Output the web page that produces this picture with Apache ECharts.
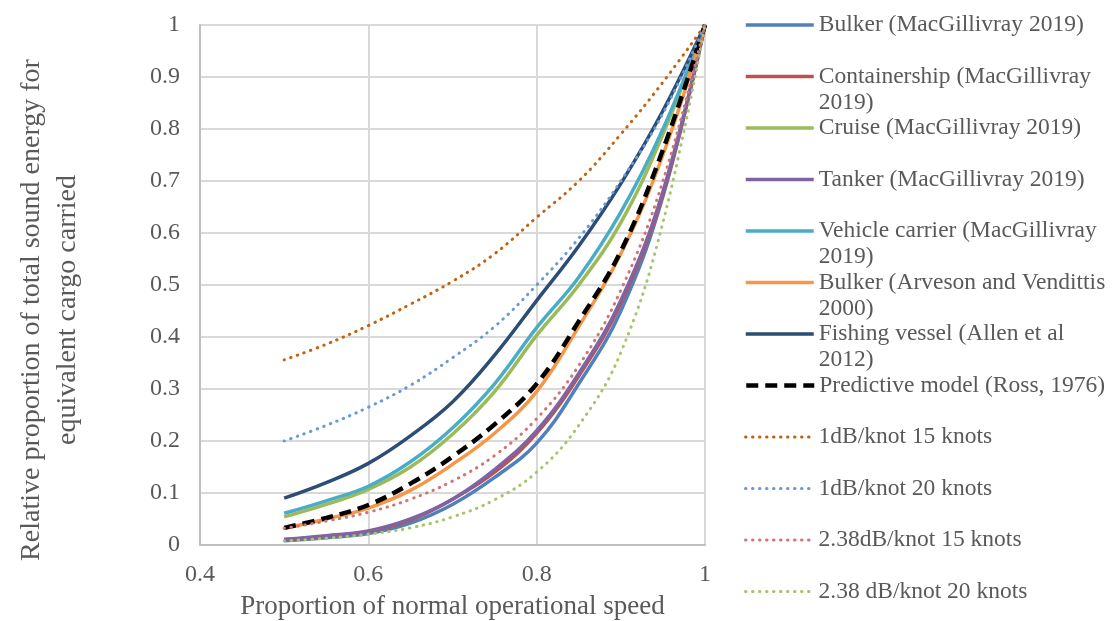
<!DOCTYPE html>
<html>
<head>
<meta charset="utf-8">
<script src="https://cdn.jsdelivr.net/npm/echarts@6/dist/echarts.min.js"></script>
<style>
	html, body { margin: 0; padding: 0; background: #fff; }
	#main { width: 1116px; height: 621px; }
</style>
</head>
<body>
<div id="main"></div>
<script>
var speed = [ 0.5, 0.55, 0.6, 0.65, 0.7, 0.75, 0.8, 0.85, 0.9, 0.95, 1 ];

var bulkerMac = [ 0.008, 0.014, 0.022, 0.042, 0.078, 0.13, 0.196, 0.31, 0.45, 0.67, 1 ];
var containerMac = [ 0.01, 0.017, 0.026, 0.048, 0.088, 0.14, 0.215, 0.325, 0.465, 0.675, 1 ];
var cruiseMac = [ 0.054, 0.078, 0.107, 0.15, 0.213, 0.295, 0.403, 0.5, 0.62, 0.79, 1 ];
var tankerMac = [ 0.011, 0.018, 0.027, 0.05, 0.088, 0.145, 0.22, 0.33, 0.47, 0.68, 1 ];
var vehicleMac = [ 0.061, 0.085, 0.113, 0.16, 0.225, 0.31, 0.418, 0.515, 0.64, 0.8, 1 ];
var bulkerArveson = [ 0.032, 0.05, 0.071, 0.105, 0.155, 0.215, 0.295, 0.42, 0.56, 0.75, 1 ];
var fishingAllen = [ 0.09, 0.12, 0.157, 0.21, 0.275, 0.365, 0.47, 0.575, 0.695, 0.835, 1 ];
var rossModel = [ 0.033, 0.052, 0.077, 0.118, 0.17, 0.232, 0.31, 0.43, 0.565, 0.76, 1 ];
var db1kn15 = [ 0.356, 0.386, 0.422, 0.463, 0.507, 0.56, 0.63, 0.70, 0.79, 0.89, 1 ];
var db1kn20 = [ 0.2, 0.23, 0.265, 0.307, 0.36, 0.42, 0.5, 0.59, 0.70, 0.83, 1 ];
var db238kn15 = [ 0.032, 0.046, 0.063, 0.088, 0.123, 0.172, 0.243, 0.345, 0.49, 0.70, 1 ];
var db238kn20 = [ 0.008, 0.013, 0.021, 0.033, 0.054, 0.087, 0.14, 0.23, 0.37, 0.62, 1 ];

var seriesNames = [ 'Bulker (MacGillivray 2019)', 'Containership (MacGillivray 2019)',
		'Cruise (MacGillivray 2019)', 'Tanker (MacGillivray 2019)',
		'Vehicle carrier (MacGillivray 2019)', 'Bulker (Arveson and Vendittis 2000)',
		'Fishing vessel (Allen et al 2012)', 'Predictive model (Ross, 1976)',
		'1dB/knot 15 knots', '1dB/knot 20 knots', '2.38dB/knot 15 knots', '2.38 dB/knot 20 knots' ];
var legendLabels = [ 'Bulker (MacGillivray 2019)', 'Containership (MacGillivray\n2019)',
		'Cruise (MacGillivray 2019)', 'Tanker (MacGillivray 2019)',
		'Vehicle carrier (MacGillivray\n2019)', 'Bulker (Arveson and Vendittis\n2000)',
		'Fishing vessel (Allen et al\n2012)', 'Predictive model (Ross, 1976)',
		'1dB/knot 15 knots', '1dB/knot 20 knots', '2.38dB/knot 15 knots', '2.38 dB/knot 20 knots' ];
var seriesValues = [ bulkerMac, containerMac, cruiseMac, tankerMac, vehicleMac, bulkerArveson,
		fishingAllen, rossModel, db1kn15, db1kn20, db238kn15, db238kn20 ];

var styles = [
	{ color : '#4F81BD', width : 3.5, type : 'solid' },
	{ color : '#C0504D', width : 3.5, type : 'solid' },
	{ color : '#9BBB59', width : 3.5, type : 'solid' },
	{ color : '#8064A2', width : 3.5, type : 'solid' },
	{ color : '#4BACC6', width : 3.5, type : 'solid' },
	{ color : '#F79646', width : 3.5, type : 'solid' },
	{ color : '#2C4D75', width : 3.5, type : 'solid' },
	{ color : '#000000', width : 4.5, type : [ 12, 7 ] },
	{ color : '#C0620F', width : 3, type : [ 0.5, 6.5 ], cap : 'round' },
	{ color : '#6A9AD3', width : 3, type : [ 0.5, 6.5 ], cap : 'round' },
	{ color : '#D07474', width : 3, type : [ 0.5, 6.5 ], cap : 'round' },
	{ color : '#A6C46A', width : 3, type : [ 0.5, 6.5 ], cap : 'round' }
];

var font = 'Liberation Serif';
var textColor = '#595959';

var chart = echarts.init(document.getElementById('main'));

var series = [];
var legends = [];
for (var i = 0; i < seriesNames.length; i++) {
	var pts = [];
	for (var j = 0; j < speed.length; j++) {
		pts.push([ speed[j], seriesValues[i][j] ]);
	}
	var st = styles[i];
	var lineStyle = {
		color : st.color,
		width : st.width,
		type : st.type,
		cap : st.cap || 'butt'
	};
	series.push({
		name : seriesNames[i],
		type : 'line',
		data : pts,
		smooth : 0.4,
		symbol : 'none',
		color : st.color,
		lineStyle : lineStyle
	});
	// two-line labels get an empty first line so the first text line sits on the icon
	var twoLines = legendLabels[i].indexOf('\n') >= 0;
	var centerY = 25 + i * 51.5;
	legends.push({
		data : [ seriesNames[i] ],
		left : 744,
		top : twoLines ? centerY - 39 : centerY - 13,
		padding : 0,
		itemWidth : 68,
		itemHeight : 14,
		selectedMode : false,
		itemStyle : { opacity : 0 },
		lineStyle : lineStyle,
		formatter : (function(lbl) {
			return function() { return lbl; };
		})(twoLines ? '\n' + legendLabels[i] : legendLabels[i]),
		textStyle : {
			fontFamily : font,
			fontSize : 23.5,
			color : textColor,
			lineHeight : 26
		}
	});
}

var option = {
	animation : false,
	backgroundColor : '#ffffff',
	grid : {
		left : 200,
		right : 411,
		top : 25,
		bottom : 76,
		outerBoundsMode : 'none'
	},
	legend : legends,
	xAxis : {
		type : 'value',
		min : 0.4,
		max : 1,
		interval : 0.2,
		name : 'Proportion of normal operational speed',
		nameLocation : 'middle',
		nameGap : 48,
		nameTextStyle : {
			fontFamily : font,
			fontSize : 27,
			color : textColor
		},
		axisLine : {
			lineStyle : { color : '#BFBFBF', width : 2 }
		},
		axisTick : { show : false },
		axisLabel : {
			fontFamily : font,
			fontSize : 24,
			color : textColor,
			margin : 18
		},
		splitLine : {
			show : true,
			lineStyle : { color : '#D9D9D9', width : 2 }
		}
	},
	yAxis : {
		type : 'value',
		min : 0,
		max : 1,
		interval : 0.1,
		name : 'Relative proportion of total sound energy for\nequivalent cargo carried',
		nameLocation : 'middle',
		nameGap : 114,
		nameTextStyle : {
			fontFamily : font,
			fontSize : 28,
			color : textColor,
			lineHeight : 36,
			padding : [ 0, 50, 0, 0 ]
		},
		axisLine : {
			show : true,
			lineStyle : { color : '#BFBFBF', width : 2 }
		},
		axisTick : { show : false },
		axisLabel : {
			fontFamily : font,
			fontSize : 24,
			color : textColor,
			margin : 20
		},
		splitLine : {
			show : true,
			lineStyle : { color : '#D9D9D9', width : 2 }
		}
	},
	series : series
};

chart.setOption(option);
</script>
</body>
</html>
